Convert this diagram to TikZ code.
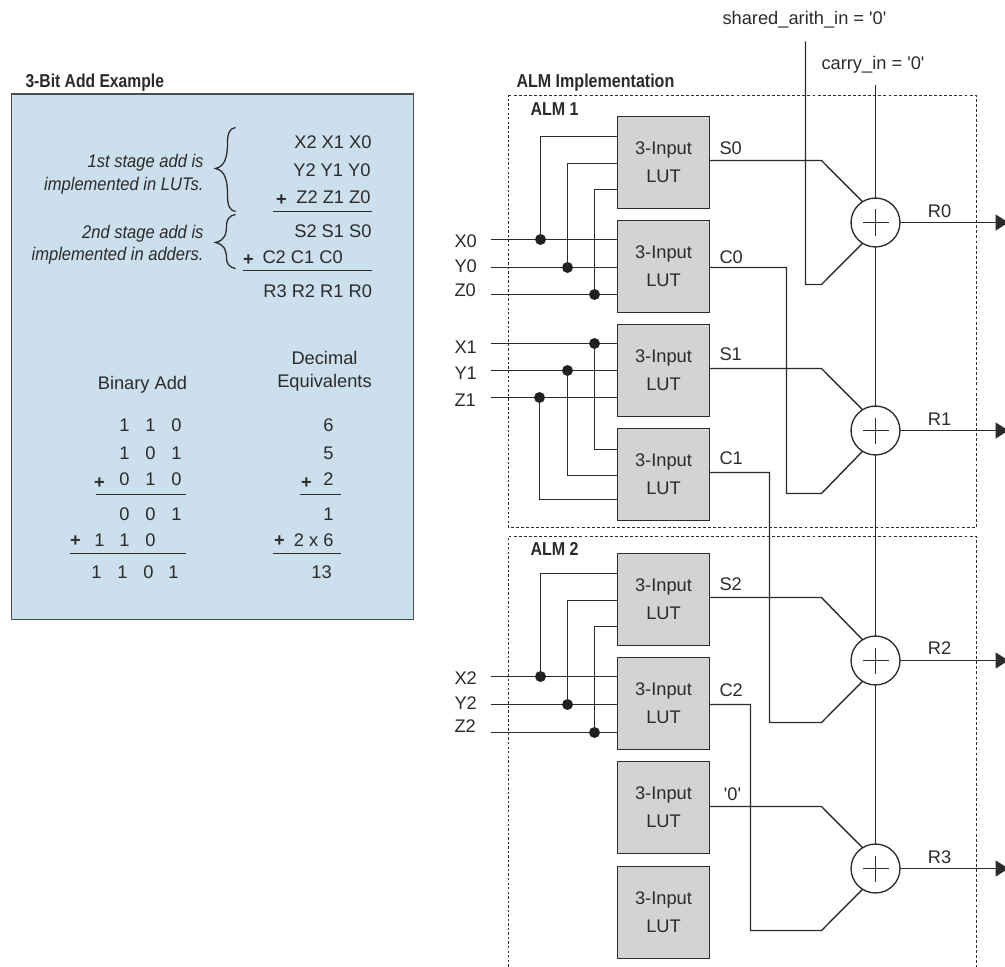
\documentclass[tikz,border=0pt]{standalone}
\usepackage{fontspec}
\setmainfont{Liberation Sans}
\newfontfamily\straightfont{Liberation Sans}
\usetikzlibrary{arrows.meta}
\definecolor{ink}{HTML}{2B2B2B}
\definecolor{panel}{HTML}{CCDFEC}
\definecolor{lutfill}{HTML}{D1D3D4}
\newcommand{\bodyfont}{\fontsize{13.7pt}{21pt}\selectfont}
\newcommand{\headfont}{\fontsize{14pt}{16pt}\selectfont\bfseries}
\newcommand{\cond}[1]{\scalebox{0.86}[1]{#1}}
\newcommand{\slim}[1]{\scalebox{0.905}[1]{#1}}
\tikzset{
  x=0.75pt,y=-0.75pt,
  wire/.style={draw=ink,line width=1.05pt,line join=miter},
  rule/.style={draw=ink,line width=0.95pt},
  txt/.style={inner sep=0pt,outer sep=0pt,text=ink,font=\bodyfont,text height=9.8pt,text depth=0pt},
  lt/.style={txt,anchor=west},
  rt/.style={txt,anchor=east},
  ct/.style={txt,anchor=center},
  plusbold/.style={txt,anchor=center,font=\bodyfont\bfseries},
  head/.style={inner sep=0pt,outer sep=0pt,text=ink,font=\headfont,anchor=west,text height=10pt,text depth=0pt},
  ital/.style={rt,font=\bodyfont\itshape},
  lutbox/.style={draw=ink,line width=1.1pt,fill=lutfill,minimum width=69pt,minimum height=69pt,inner sep=0pt,outer sep=0pt,text=ink,font=\bodyfont,align=center},
  adder/.style={circle,draw=ink,line width=1pt,fill=white,minimum size=36.7pt,inner sep=0pt,outer sep=0pt},
  joint/.style={circle,fill=black!88,inner sep=0pt,minimum size=8.2pt,outer sep=0pt},
  almtb/.style={draw=ink,line width=0.75pt,dash pattern=on 2.2pt off 1.6pt},
  almleft/.style={draw=ink,line width=1.1pt,dash pattern=on 1.8pt off 1.6pt},
  outwire/.style={wire,-{Triangle[length=9.75pt,width=12pt]}},
  paneledge/.style={draw=black!70,line width=1.1pt,fill=panel}
}
\begin{document}
\begin{tikzpicture}
\useasboundingbox (0,0) rectangle (1005,966);
\clip (0,0) rectangle (1005,966);
\begin{scope}[shift={(0.5,0.5)}]

% ---------- left panel
\node[head] (h3bit) at (25,80) {\scalebox{0.84}[1]{3-Bit Add Example}};
\node[paneledge,anchor=north west,minimum width=301.5pt,minimum height=394pt,inner sep=0pt,outer sep=0pt] (panelbox) at (11,93.5) {};

\node[ital] (i1) at (203,160) {\slim{1st stage add is}};
\node[ital] (i2) at (203,183) {\slim{implemented in LUTs.}};
\node[ital] (i3) at (203,231) {\slim{2nd stage add is}};
\node[ital] (i4) at (203,253) {\slim{implemented in adders.}};
\draw[rule] (235,127) .. controls (229,128) and (227,133) .. (227,142) .. controls (227,155) and (225,166) .. (215,168) .. controls (225,170) and (227,181) .. (227,194) .. controls (227,205) and (229,210) .. (235,211);
\draw[rule] (235,214) .. controls (229,215) and (226,219) .. (226,225) .. controls (226,234) and (224,240) .. (215,242) .. controls (224,244) and (226,250) .. (226,258) .. controls (226,263) and (229,267) .. (235,268);

\node[rt] (xs) at (371,141) {X2 X1 X0};
\node[rt] (ys) at (370,169) {Y2 Y1 Y0};
\node[rt] (zs) at (370,196) {Z2 Z1 Z0};
\node[plusbold] (pz) at (281,198) {+};
\coordinate (r1a) at (272,211); \coordinate (r1b) at (371,211);
\draw[rule] (r1a) -- (r1b);
\node[rt] (ss) at (371,230) {S2 S1 S0};
\node[lt] (cs) at (262,256) {C2 C1 C0};
\node[plusbold] (pc) at (248,258) {+};
\coordinate (r2a) at (242,270); \coordinate (r2b) at (371,270);
\draw[rule] (r2a) -- (r2b);
\node[rt] (rs) at (371.5,290) {R3 R2 R1 R0};

\node[ct] (binhead) at (142,382) {Binary Add};
\node[ct] (dechead1) at (324,357) {Decimal};
\node[ct] (dechead2) at (324,380) {Equivalents};

\node[ct] (b11) at (124,424) {1}; \node[ct] (b12) at (150,424) {1}; \node[ct] (b13) at (176,424) {0};
\node[ct] (b21) at (124,452) {1}; \node[ct] (b22) at (150,452) {0}; \node[ct] (b23) at (176,452) {1};
\node[plusbold] (bp3) at (99,481) {+};
\node[ct] (b31) at (124,478) {0}; \node[ct] (b32) at (150,478) {1}; \node[ct] (b33) at (176,478) {0};
\coordinate (r3a) at (95,494); \coordinate (r3b) at (185,494);
\draw[rule] (r3a) -- (r3b);
\node[ct] (b41) at (124,513) {0}; \node[ct] (b42) at (150,513) {0}; \node[ct] (b43) at (176,513) {1};
\node[plusbold] (bp5) at (75,539) {+};
\node[ct] (b51) at (99,539) {1}; \node[ct] (b52) at (124,539) {1}; \node[ct] (b53) at (150,539) {0};
\coordinate (r4a) at (69,553); \coordinate (r4b) at (185,553);
\draw[rule] (r4a) -- (r4b);
\node[ct] (b61) at (96,571) {1}; \node[ct] (b62) at (122,571) {1}; \node[ct] (b63) at (148,571) {0}; \node[ct] (b64) at (173,571) {1};

\node[ct] (d1) at (328,424) {6};
\node[ct] (d2) at (328,452) {5};
\node[plusbold] (dp3) at (306,481) {+};
\node[ct] (d3) at (328,478) {2};
\coordinate (r5a) at (299,494); \coordinate (r5b) at (340,494);
\draw[rule] (r5a) -- (r5b);
\node[ct] (d4) at (328,513) {1};
\node[plusbold] (dp5) at (279,539) {+};
\node[rt] (d5) at (333,539) {2 x 6};
\coordinate (r6a) at (272,553); \coordinate (r6b) at (340,553);
\draw[rule] (r6a) -- (r6b);
\node[ct] (d6) at (321,571) {13};

% ---------- ALM frames
\node[head] (himp) at (516,80) {\cond{ALM Implementation}};
\coordinate (a1nw) at (508,95); \coordinate (a1ne) at (976,95); \coordinate (a1se) at (976,527); \coordinate (a1sw) at (508,527);
\coordinate (a2nw) at (508,536); \coordinate (a2ne) at (976,536); \coordinate (a2se) at (976,966); \coordinate (a2sw) at (508,966);
\draw[almtb] (a1nw) -- (a1ne) -- (a1se) -- (a1sw);
\draw[almleft] (a1sw) -- (a1nw);
\draw[almtb] (a2nw) -- (a2ne) -- (a2se);
\draw[almleft] (a2sw) -- (a2nw);
\node[head] (alm1) at (530,108) {\cond{ALM 1}};
\node[head] (alm2) at (530,548) {\cond{ALM 2}};

% ---------- top inputs
\node[lt] (sharedlab) at (722,17) {shared\_arith\_in = {\straightfont'0'}};
\node[lt] (carrylab) at (821,62) {carry\_in = {\straightfont'0'}};
\coordinate (sharedtop) at (805,41);
\coordinate (carrytop) at (875,85);

% ---------- LUTs
\node[lutbox] (L1) at (663,162) {3-Input\\LUT};
\node[lutbox] (L2) at (663,266) {3-Input\\LUT};
\node[lutbox] (L3) at (663,370) {3-Input\\LUT};
\node[lutbox] (L4) at (663,474) {3-Input\\LUT};
\node[lutbox] (L5) at (663,599) {3-Input\\LUT};
\node[lutbox] (L6) at (663,703) {3-Input\\LUT};
\node[lutbox] (L7) at (663,807) {3-Input\\LUT};
\node[lutbox] (L8) at (663,912) {3-Input\\LUT};

% ---------- input labels
\node[lt] (X0) at (454,240) {X0}; \node[lt] (Y0) at (454,265) {Y0}; \node[lt] (Z0) at (454,289) {Z0};
\node[lt] (X1) at (454,346) {X1}; \node[lt] (Y1) at (454,372) {Y1}; \node[lt] (Z1) at (454,399) {Z1};
\node[lt] (X2) at (454,677) {X2}; \node[lt] (Y2) at (454,702) {Y2}; \node[lt] (Z2) at (454,725) {Z2};

% ---------- input wires
\foreach \n/\yy in {x0/239,y0/267,z0/294,x1/343,y1/370,z1/397,x2/676,y2/704,z2/732}{
  \coordinate (\n s) at (490,\yy);
  \coordinate (\n e) at (617,\yy);
  \draw[wire] (\n s) -- (\n e);
}
\node[joint] (jx0) at (540,239) {}; \node[joint] (jy0) at (567,267) {}; \node[joint] (jz0) at (594,294) {};
\node[joint] (jx1) at (594,343) {}; \node[joint] (jy1) at (567,370) {}; \node[joint] (jz1) at (539,397) {};
\node[joint] (jx2) at (540,676) {}; \node[joint] (jy2) at (567,704) {}; \node[joint] (jz2) at (594,732) {};

\foreach \j/\yy in {jx0/136,jy0/163,jz0/189,jx1/449,jy1/475,jz1/499,jx2/573,jy2/600,jz2/626}{
  \coordinate (\j p) at (617,\yy);
  \draw[wire] (\j.center) |- (\j p);
}

% ---------- adders
\node[adder] (A0) at (875,222) {};
\node[adder] (A1) at (875,430) {};
\node[adder] (A2) at (875,660) {};
\node[adder] (A3) at (875,868) {};
\foreach \a in {A0,A1,A2,A3}{
  \draw[draw=ink,line width=0.7pt] ([xshift=-9.75pt]\a.center) -- ([xshift=9.75pt]\a.center);
  \draw[draw=ink,line width=0.7pt] ([yshift=-9.75pt]\a.center) -- ([yshift=9.75pt]\a.center);
}
\draw[wire] (carrytop) -- (A0.north);
\draw[wire] (A0.south) -- (A1.north);
\draw[wire] (A1.south) -- (A2.north);
\draw[wire] (A2.south) -- (A3.north);

% ---------- LUT outputs to adders
\coordinate (s0a) at (709,160); \coordinate (s0b) at (821,160);
\draw[wire] (s0a) -- (s0b) -- (A0.122);
\coordinate (s1a) at (709,368); \coordinate (s1b) at (821,368);
\draw[wire] (s1a) -- (s1b) -- (A1.122);
\coordinate (s2a) at (709,597); \coordinate (s2b) at (821,597);
\draw[wire] (s2a) -- (s2b) -- (A2.122);
\coordinate (z3a) at (709,806); \coordinate (z3b) at (821,806);
\draw[wire] (z3a) -- (z3b) -- (A3.122);

\coordinate (ar0) at (805,284); \coordinate (ar1) at (821,284);
\draw[wire] (sharedtop) -- (ar0) -- (ar1) -- (A0.238);
\coordinate (c0a) at (709,267); \coordinate (c0b) at (786,267); \coordinate (c0c) at (786,493); \coordinate (c0d) at (821,493);
\draw[wire] (c0a) -- (c0b) -- (c0c) -- (c0d) -- (A1.238);
\coordinate (c1a) at (709,472); \coordinate (c1b) at (769,472); \coordinate (c1c) at (769,722); \coordinate (c1d) at (821,722);
\draw[wire] (c1a) -- (c1b) -- (c1c) -- (c1d) -- (A2.238);
\coordinate (c2a) at (709,704); \coordinate (c2b) at (750,704); \coordinate (c2c) at (750,930); \coordinate (c2d) at (821,930);
\draw[wire] (c2a) -- (c2b) -- (c2c) -- (c2d) -- (A3.238);

\node[lt] (S0) at (719,147) {S0};
\node[lt] (C0) at (719,256) {C0};
\node[lt] (S1) at (719,353) {S1};
\node[lt] (C1) at (719,457) {C1};
\node[lt] (S2) at (719,583) {S2};
\node[lt] (C2) at (719,689) {C2};
\node[ct] (zero) at (732,793) {\straightfont'0'};

% ---------- outputs
\foreach \a/\i in {A0/0,A1/1,A2/2,A3/3}{
  \coordinate (o\i) at ([xshift=99.75pt]\a.center);
  \draw[outwire] (\a.east) -- (o\i);
}
\node[ct] (R0) at (939,210) {R0};
\node[ct] (R1) at (939,418) {R1};
\node[ct] (R2) at (939,647) {R2};
\node[ct] (R3) at (939,856) {R3};
\end{scope}
\end{tikzpicture}
\end{document}
